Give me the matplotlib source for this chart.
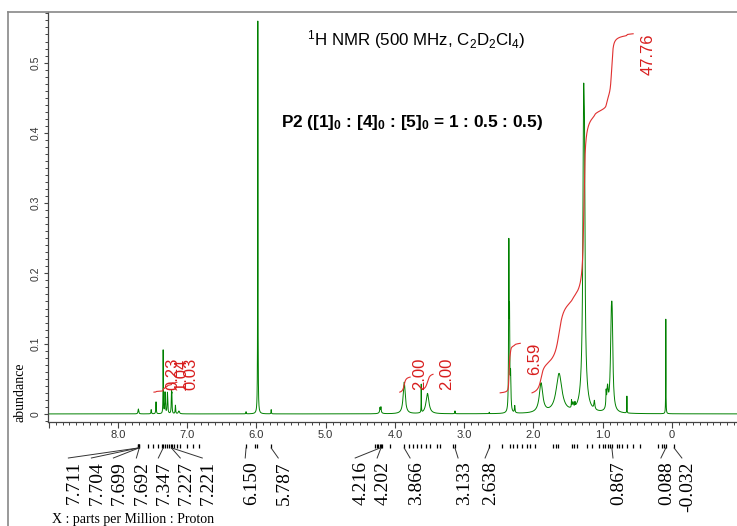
import numpy as np
import matplotlib
matplotlib.use('Agg')
import matplotlib.pyplot as plt
from matplotlib import ticker, transforms
from matplotlib.lines import Line2D

plt.rcParams['font.family'] = ['Liberation Sans', 'DejaVu Sans']
plt.rcParams['mathtext.fontset'] = 'custom'
plt.rcParams['mathtext.rm'] = 'Liberation Sans'
plt.rcParams['mathtext.it'] = 'Liberation Sans:italic'
plt.rcParams['mathtext.bf'] = 'Liberation Sans:bold'

# peak table: position (ppm), height, half width (ppm)
peak_ppm = [7.705, 7.52, 7.45, 7.347, 7.32, 7.285, 7.227, 7.221, 7.17, 7.12,
            6.150, 5.98, 5.787, 4.216, 4.202, 4.21, 3.866, 3.62, 3.53, 3.133,
            2.638, 2.355, 2.345, 2.33, 2.27, 1.89, 1.63, 1.45, 1.43, 1.40,
            1.275, 1.262, 1.27, 1.12, 0.95, 0.93, 0.875, 0.862, 0.65, 0.088]
peak_height = [0.007, 0.006, 0.017, 0.09, 0.03, 0.03, 0.028, 0.022, 0.012, 0.004,
               0.003, 0.56, 0.006, 0.006, 0.007, 0.003, 0.045, 0.04, 0.029, 0.004,
               0.002, 0.23, 0.12, 0.05, 0.01, 0.042, 0.056, 0.01, 0.008, 0.006,
               0.36, 0.20, 0.05, 0.012, 0.02, 0.03, 0.11, 0.085, 0.024, 0.135]
peak_hwhm = [0.006, 0.004, 0.004, 0.0025, 0.005, 0.005, 0.004, 0.003, 0.004, 0.01,
             0.003, 0.0025, 0.003, 0.004, 0.004, 0.02, 0.018, 0.002, 0.025, 0.003,
             0.003, 0.004, 0.004, 0.006, 0.005, 0.03, 0.05, 0.003, 0.01, 0.003,
             0.012, 0.008, 0.04, 0.008, 0.004, 0.012, 0.015, 0.012, 0.002, 0.002]

# integral regions (start ppm, end ppm), values and baseline level
integ_start = [7.48, 3.93, 3.60, 2.48, 2.02]
integ_end = [7.15, 3.78, 3.45, 2.19, 0.56]
integ_base = [0.031, 0.031, 0.035, 0.030, 0.030]
integ_value = [1.30, 2.00, 2.00, 6.59, 47.76]
integ_scale = 0.0107

integ_labels = ['0.23', '1.04', '0.03', '2.00', '2.00', '6.59', '47.76']
integ_label_ppm = [7.21, 7.08, 6.95, 3.64, 3.25, 1.98, 0.35]
integ_label_top = [0.080, 0.080, 0.080, 0.080, 0.080, 0.101, 0.542]

# peak picking
picked_ppm = [7.711, 7.704, 7.699, 7.692, 7.56, 7.49, 7.42, 7.37, 7.347, 7.32,
              7.29, 7.26, 7.227, 7.221, 7.19, 7.14, 7.10, 7.00, 6.91, 6.83,
              6.150, 6.02, 5.99, 5.787, 4.29, 4.26, 4.24, 4.216, 4.202, 4.18,
              4.07, 3.866, 3.80, 3.74, 3.68, 3.62, 3.55, 3.49, 3.39, 3.35,
              3.16, 3.133, 2.638, 2.46, 2.34, 2.29, 2.24, 2.17, 2.09, 2.05,
              1.98, 1.72, 1.68, 1.64, 1.44, 1.41, 1.37, 1.23, 1.15, 1.06,
              0.99, 0.96, 0.93, 0.90, 0.867, 0.80, 0.76, 0.72, 0.65, 0.56,
              0.46, 0.20, 0.15, 0.12, 0.088, -0.032]
label_ppm = [7.711, 7.704, 7.699, 7.692, 7.347, 7.227, 7.221, 6.150, 5.787,
             4.216, 4.202, 3.866, 3.133, 2.638, 0.867, 0.088, -0.032]
label_pos = [8.716, 8.384, 8.066, 7.734, 7.417, 7.100, 6.782, 6.162, 5.685,
             4.574, 4.257, 3.781, 3.088, 2.698, 0.851, 0.159, -0.144]

ppm = np.linspace(9.01, -0.94, 40000)
spec = np.zeros_like(ppm)
for p, h, w in zip(peak_ppm, peak_height, peak_hwhm):
    spec += h / (1.0 + ((ppm - p) / w) ** 2)

fig = plt.figure(figsize=(7.37, 5.26), dpi=100)
ax = fig.add_axes([48 / 737, 1 - 422 / 526, 1 - 48 / 737, 410 / 526])

ax.plot(ppm, spec, color='#008000', lw=0.7)

# integral curves
cum = np.cumsum(spec)
for s, e, b, v in zip(integ_start, integ_end, integ_base, integ_value):
    m = (ppm <= s) & (ppm >= e)
    c = cum[m] - cum[m][0]
    ax.plot(ppm[m], b + v * integ_scale * c / c[-1], color='#e03030', lw=0.8)

for t, x, y in zip(integ_labels, integ_label_ppm, integ_label_top):
    ax.text(x, y, t, rotation=90, ha='center', va='top', color='#d81e1e', fontsize=12)

ax.set_xlim(9.01, -0.94)
ax.set_ylim(-0.0115, 0.572)

ax.xaxis.set_major_locator(ticker.MultipleLocator(1.0))
ax.xaxis.set_minor_locator(ticker.MultipleLocator(0.1))
ax.yaxis.set_major_locator(ticker.MultipleLocator(0.1))
ax.yaxis.set_minor_locator(ticker.MultipleLocator(0.01))


def fmt(v, pos):
    if abs(v) < 1e-9:
        return '0'
    if v > 8.5:
        return ''
    return '%.1f' % v


ax.xaxis.set_major_formatter(ticker.FuncFormatter(fmt))
ax.yaxis.set_major_formatter(ticker.FuncFormatter(fmt))

for s in ['top', 'right']:
    ax.spines[s].set_visible(False)
for s in ['left', 'bottom']:
    ax.spines[s].set_color('#444444')
    ax.spines[s].set_linewidth(0.9)

ax.tick_params(axis='x', which='major', length=4.5, width=0.8, color='#444444',
               labelsize=8, labelcolor='#333333', pad=1.5)
ax.tick_params(axis='x', which='minor', length=2.5, width=0.7, color='#444444')
ax.tick_params(axis='y', which='major', length=3.2, width=0.8, color='#444444',
               labelsize=7.5, labelcolor='#333333', labelrotation=90, pad=2)
ax.tick_params(axis='y', which='minor', length=2, width=0.7, color='#444444')
for lab in ax.get_yticklabels():
    lab.set_va('center')

# peak pick marks and leader lines below the axis
trans = transforms.blended_transform_factory(ax.transData, ax.transAxes)
y0, y1, y2, y3 = -22 / 410, -26 / 410, -36 / 410, -39 / 410
ax.vlines(picked_ppm, y0, y1, transform=trans, color='black', lw=0.9, clip_on=False)
for p, q in zip(label_ppm, label_pos):
    ax.plot([p, q], [y1, y2], transform=trans, color='#333333', lw=0.7, clip_on=False)
off = trans + transforms.ScaledTranslation(6 / 100, 0, fig.dpi_scale_trans)
for p, q in zip(label_ppm, label_pos):
    ax.text(q, y3, '%.3f' % p, transform=off, rotation=90, ha='center', va='top',
            fontsize=14, family=['Liberation Serif', 'DejaVu Serif'], clip_on=False)

# titles
fig.text(416 / 737, 1 - 40 / 526, r'$^1$H NMR (500 MHz, C$_2$D$_2$Cl$_4$)',
         ha='center', va='center', fontsize=12.2)
fig.text(412 / 737, 1 - 123 / 526,
         r'P2 ([1]$_\mathbf{0}$ : [4]$_\mathbf{0}$ : [5]$_\mathbf{0}$ = 1 : 0.5 : 0.5)',
         ha='center', va='center', fontsize=12.4, fontweight='bold')

fig.text(20 / 737, 1 - 392 / 526, 'abundance', rotation=90, ha='center', va='center',
         fontsize=10, family=['Liberation Serif', 'DejaVu Serif'])
fig.text(52 / 737, 1 - 519 / 526, 'X : parts per Million : Proton', ha='left', va='center',
         fontsize=10, family=['Liberation Serif', 'DejaVu Serif'])

# outer frame
fig.add_artist(Line2D([8 / 737, 8 / 737], [0, 1 - 12 / 526], transform=fig.transFigure,
                      color='#888888', lw=1.2))
fig.add_artist(Line2D([8 / 737, 1], [1 - 12 / 526, 1 - 12 / 526], transform=fig.transFigure,
                      color='#888888', lw=1.2))

fig.savefig('out.png', dpi=100)
